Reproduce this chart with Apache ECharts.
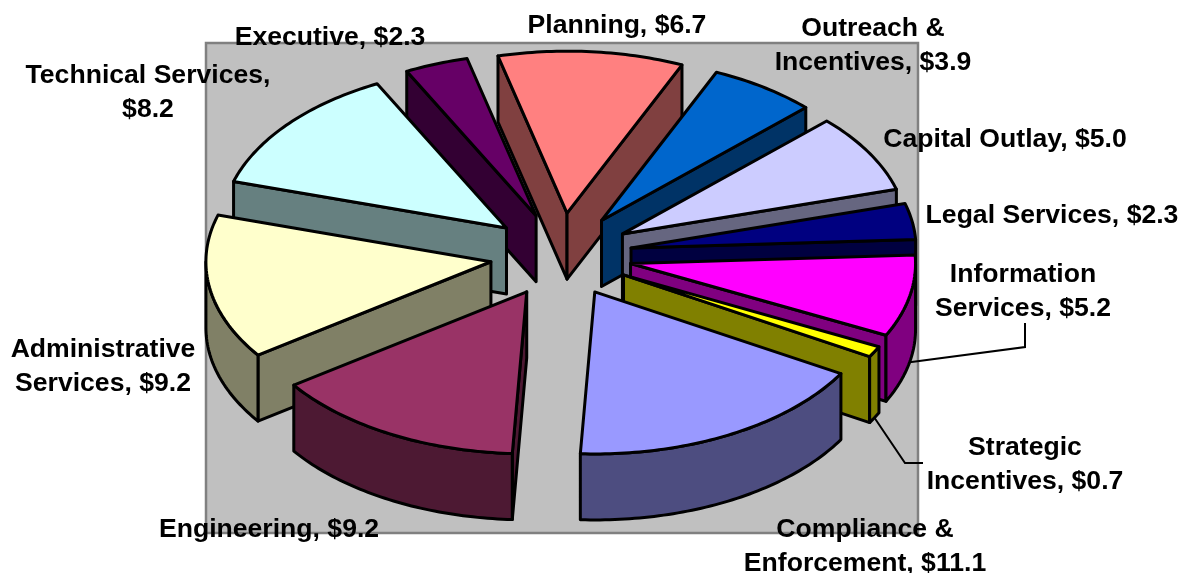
<!DOCTYPE html>
<html>
<head>
<meta charset="utf-8">
<style>
  html, body { margin: 0; padding: 0; background: #fff; }
  #chart { width: 1184px; height: 573px; }
</style>
<script src="https://cdn.jsdelivr.net/npm/echarts@6/dist/echarts.min.js"></script>
</head>
<body>
<div id="chart"></div>
<script>
// values in clockwise order, first slice is Executive
const categories = ['Executive', 'Planning', 'Outreach &\nIncentives', 'Capital Outlay', 'Legal Services',
  'Information\nServices', 'Strategic\nIncentives', 'Compliance &\nEnforcement', 'Engineering',
  'Administrative\nServices', 'Technical Services,\n'];
const values = [2.3, 6.7, 3.9, 5.0, 2.3, 5.2, 0.7, 11.1, 9.2, 9.2, 8.2];
const topColors = ['#660066', '#FF8080', '#0066CC', '#CCCCFF', '#000080', '#FF00FF', '#FFFF00', '#9999FF', '#993366', '#FFFFCC', '#CCFFFF'];
const sideColors = ['#330033', '#804040', '#003366', '#666680', '#000040', '#800080', '#808000', '#4D4D80', '#4D1933', '#808066', '#668080'];

// label centres (first line) and leader line routes, by slice
const labelPos = [[330, 38], [617, 26], [873, 29], [1005, 140], [1052, 216], [1023, 275], [1025, 448], [865, 530], [269, 530], [103, 350], [148, 76]];
const leaders = { 5: [[1025, 347], [1025, 323]], 6: [[905, 463], [923, 463]] };

// pie projection
const cx = 561, cy = 255;
const rx = 285, ry = 162;
const explodeX = 71, explodeY = 42;
const depth = 66;
const startDeg = -27;

const total = values.reduce((a, b) => a + b, 0);
const rad = (d) => (d * Math.PI) / 180;

const slices = [];
let acc = startDeg;
values.forEach((v) => {
  const sweep = (v / total) * 360;
  slices.push({ a0: acc, a1: acc + sweep, mid: acc + sweep / 2 });
  acc += sweep;
});

const apexOf = (s) => [cx + Math.sin(rad(s.mid)) * explodeX, cy - Math.cos(rad(s.mid)) * explodeY];
const rimPoint = (apex, deg) => [apex[0] + Math.sin(rad(deg)) * rx, apex[1] - Math.cos(rad(deg)) * ry];
const down = (p) => [p[0], p[1] + depth];

function arcPoints(apex, a0, a1) {
  const pts = [];
  const steps = Math.max(2, Math.ceil(a1 - a0));
  for (let i = 0; i <= steps; i++) pts.push(rimPoint(apex, a0 + ((a1 - a0) * i) / steps));
  return pts;
}

const edge = { stroke: '#000', lineWidth: 3, lineJoin: 'round' };

function renderSlice(params, api) {
  const i = api.value(0);
  const s = slices[i];
  const apex = apexOf(s);
  const children = [];
  const face = (points, fill) => children.push({ type: 'polygon', shape: { points }, style: { fill, ...edge } });

  // cut faces, only those turned toward the viewer
  if (-Math.cos(rad(s.a0 - 90)) > 0) {
    const p = rimPoint(apex, s.a0);
    face([apex, p, down(p), down(apex)], sideColors[i]);
  }
  if (-Math.cos(rad(s.a1 + 90)) > 0) {
    const p = rimPoint(apex, s.a1);
    face([apex, p, down(p), down(apex)], sideColors[i]);
  }
  // outer wall, front half of the ellipse only
  for (const [from, to] of [[90, 270], [450, 630]]) {
    const a0 = Math.max(s.a0, from);
    const a1 = Math.min(s.a1, to);
    if (a1 > a0) {
      const rim = arcPoints(apex, a0, a1);
      face(rim.concat(rim.map(down).reverse()), sideColors[i]);
    }
  }
  // top
  face([apex].concat(arcPoints(apex, s.a0, s.a1)), topColors[i]);
  return { type: 'group', children };
}

function renderLabel(params, api) {
  const i = api.value(0);
  const s = slices[i];
  const children = [];
  if (leaders[i]) {
    const start = down(rimPoint(apexOf(s), s.mid));
    children.push({
      type: 'polyline',
      shape: { points: [start].concat(leaders[i]) },
      style: { fill: null, stroke: '#000', lineWidth: 2 },
    });
  }
  const name = categories[i].endsWith(',\n') ? categories[i] : categories[i] + ',';
  const amount = '$' + values[i].toFixed(1);
  const text = name.endsWith('\n') ? name + amount : name + ' ' + amount;
  children.push({
    type: 'text',
    style: {
      x: labelPos[i][0],
      y: labelPos[i][1] - 17,
      text,
      fill: '#000',
      font: 'bold 26.6px "Liberation Sans", Arial, sans-serif',
      lineHeight: 33.5,
      align: 'center',
      verticalAlign: 'top',
    },
  });
  return { type: 'group', children };
}

// draw back slices first so front ones overlap them
const drawOrder = values.map((_, i) => i).sort((a, b) => -Math.cos(rad(slices[a].mid)) + Math.cos(rad(slices[b].mid)));

const chart = echarts.init(document.getElementById('chart'), null, { renderer: 'canvas' });
chart.setOption({
  animation: false,
  backgroundColor: '#fff',
  graphic: [{
    type: 'rect',
    z: -1,
    shape: { x: 206, y: 43, width: 712, height: 490 },
    style: { fill: '#C0C0C0', stroke: '#808080', lineWidth: 2.5 },
  }],
  series: [
    {
      type: 'custom',
      coordinateSystem: 'none',
      z: 2,
      silent: true,
      renderItem: renderSlice,
      data: drawOrder.map((i) => [i, values[i]]),
    },
    {
      type: 'custom',
      coordinateSystem: 'none',
      z: 3,
      silent: true,
      renderItem: renderLabel,
      data: values.map((v, i) => [i, v]),
    },
  ],
});
</script>
</body>
</html>
